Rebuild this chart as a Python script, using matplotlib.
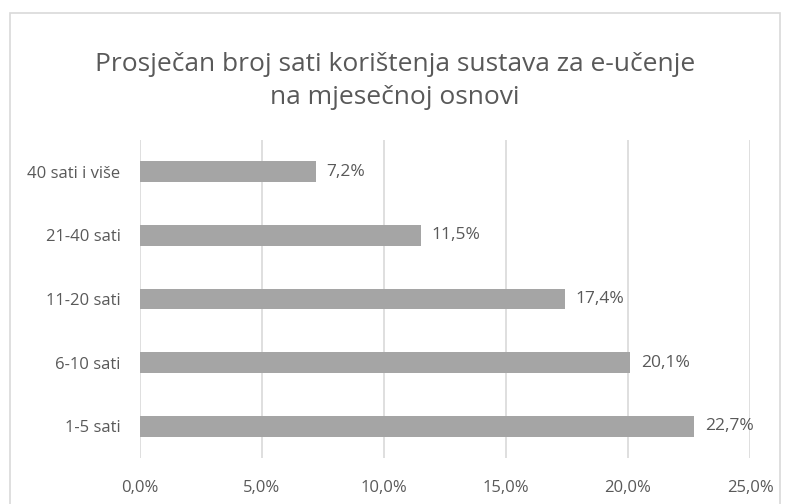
import matplotlib.pyplot as plt
from matplotlib.patches import Rectangle

# podaci
kategorije = ['1-5 sati', '6-10 sati', '11-20 sati', '21-40 sati', '40 sati i više']
postotci = [22.7, 20.1, 17.4, 11.5, 7.2]
x_ticks = [0, 5, 10, 15, 20, 25]

plt.rcParams['font.family'] = ['Open Sans', 'DejaVu Sans']
siva = '#595959'

fig = plt.figure(figsize=(7.87, 5.04), dpi=100)
fig.patches.append(Rectangle((10 / 787, -0.1), 770 / 787, 1.1 - 13 / 504,
                             transform=fig.transFigure, fill=False,
                             edgecolor='#d9d9d9', linewidth=1.2))

ax = fig.add_axes([140 / 787, 1 - 458 / 504, 610 / 787, 318 / 504])
y = range(len(kategorije))
ax.barh(y, postotci, height=0.33, color='#a5a5a5', zorder=3)

for i, v in enumerate(postotci):
    ax.text(v + 0.45, i, f'{v:.1f}%'.replace('.', ','), va='center', ha='left',
            fontsize=12.5, color=siva)

ax.set_xlim(0, 25)
ax.set_ylim(-0.5, 4.5)
ax.set_xticks(x_ticks)
ax.set_xticklabels([f'{t:.1f}%'.replace('.', ',') for t in x_ticks])
ax.set_yticks(list(y))
ax.set_yticklabels(kategorije)
ax.tick_params(axis='both', length=0, labelsize=12, colors=siva)
ax.tick_params(axis='x', pad=16)
ax.tick_params(axis='y', pad=14)
ax.grid(axis='x', color='#d9d9d9', linewidth=1.2, zorder=0)
for s in ax.spines.values():
    s.set_visible(False)

fig.text(395 / 787, 1 - 81 / 504,
         'Prosječan broj sati korištenja sustava za e-učenje\nna mjesečnoj osnovi',
         ha='center', va='center', fontsize=19, color=siva, linespacing=1.45)

fig.savefig('out.png', dpi=100)
